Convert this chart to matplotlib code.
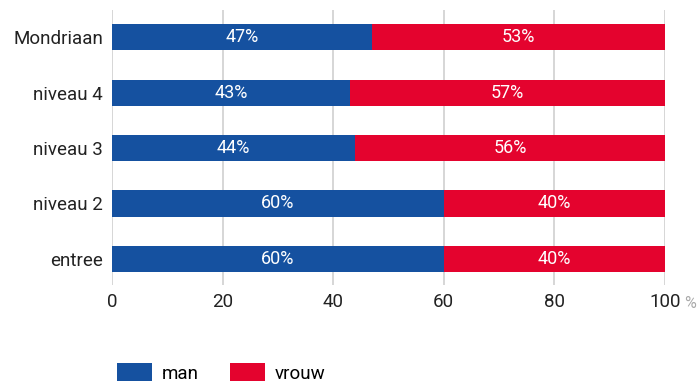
import matplotlib
matplotlib.use("Agg")
import matplotlib.pyplot as plt
from matplotlib.patches import Patch

categories = ["entree", "niveau 2", "niveau 3", "niveau 4", "Mondriaan"]
man = [60, 60, 44, 43, 47]
vrouw = [40, 40, 56, 57, 53]
series_names = ["man", "vrouw"]
colors = ["#1551a0", "#e4032e"]
xticks = [0, 20, 40, 60, 80, 100]

plt.rcParams["font.family"] = ["Roboto", "DejaVu Sans"]

fig = plt.figure(figsize=(6.98, 3.85), dpi=100)
ax = fig.add_axes([112 / 698, 1 - 285 / 385, (665 - 112) / 698, (285 - 10) / 385])

y = list(range(len(categories)))
h = 0.47
ax.barh(y, man, height=h, color=colors[0], zorder=3)
ax.barh(y, vrouw, left=man, height=h, color=colors[1], zorder=3)

for i in y:
    ax.text(man[i] / 2, i, f"{man[i]}%", ha="center", va="center",
            color="white", fontsize=13, zorder=4)
    ax.text(man[i] + vrouw[i] / 2, i, f"{vrouw[i]}%", ha="center", va="center",
            color="white", fontsize=13, zorder=4)

ax.set_xlim(0, 100)
ax.set_ylim(-0.47, 4.49)
ax.set_xticks(xticks)
ax.set_yticks(y)
ax.set_yticklabels(categories)
ax.tick_params(axis="both", length=0, labelsize=13.5, colors="#222222")
ax.tick_params(axis="x", pad=6)
ax.tick_params(axis="y", pad=6.5)
for s in ax.spines.values():
    s.set_visible(False)
ax.grid(axis="x", color="#d0d0d0", linewidth=1.2, zorder=0)
ax.set_axisbelow(True)

fig.text(690 / 698, 1 - 303 / 385, "%", color="#aaaaaa", fontsize=11.5,
         ha="center", va="center")

handles = [Patch(facecolor=c, edgecolor="none") for c in colors]
fig.legend(handles, series_names, loc="center left",
           bbox_to_anchor=(117 / 698, 1 - 373 / 385), ncol=2, frameon=False,
           fontsize=13.5, handlelength=1.87, handleheight=1.07, borderpad=0,
           borderaxespad=0, handletextpad=0.53, columnspacing=1.65)

fig.savefig("out.png", dpi=100)
